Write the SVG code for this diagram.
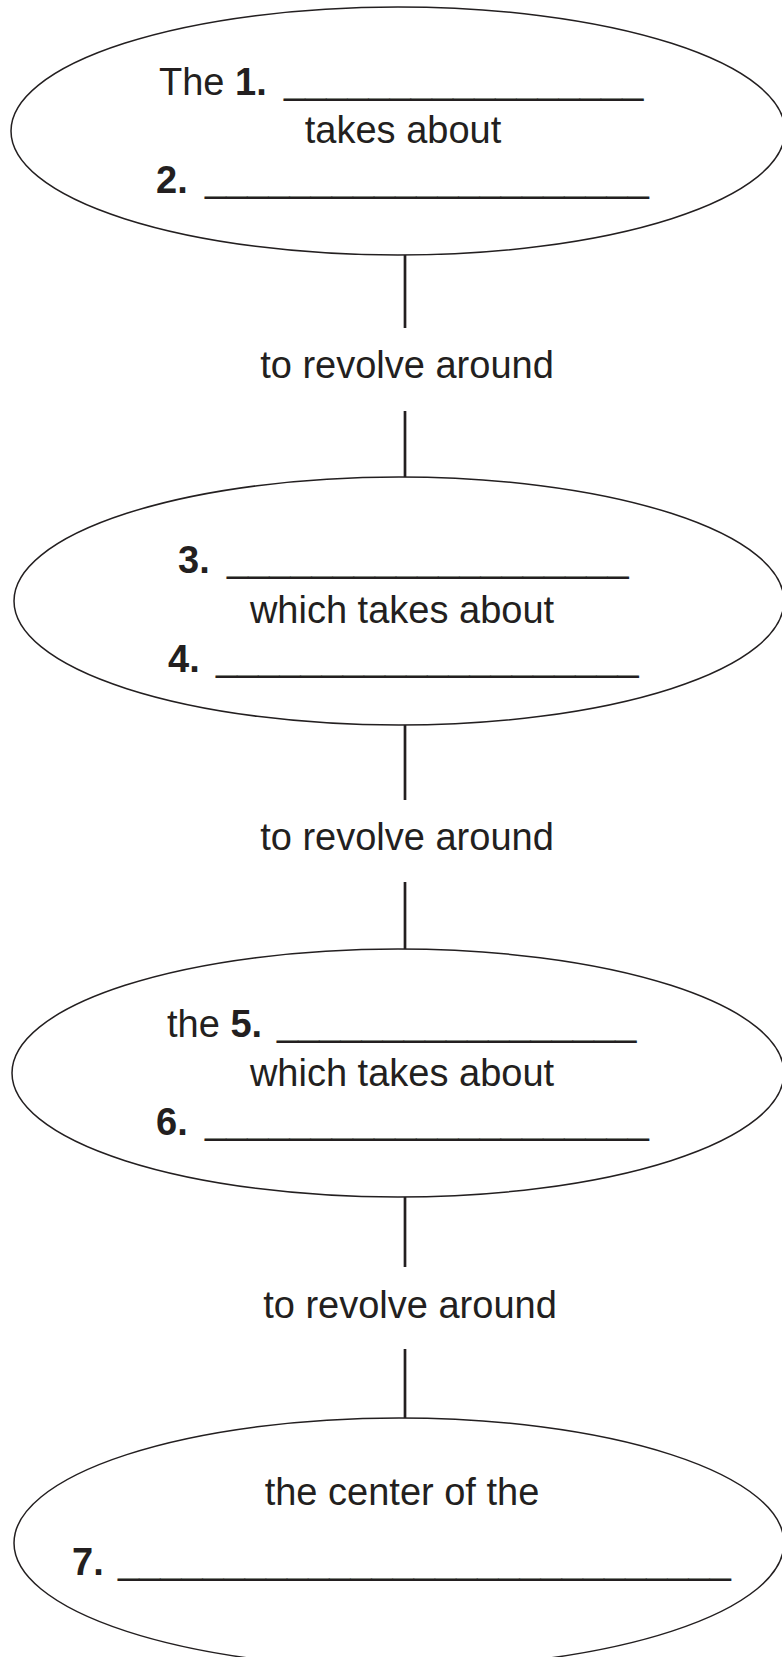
<svg xmlns="http://www.w3.org/2000/svg" width="782" height="1657" viewBox="0 0 782 1657">
<style>
.oval{fill:#fff;stroke:#231f20;stroke-width:1.5}
.conn line{stroke:#231f20;stroke-width:2.7}
text{font-family:"Liberation Sans",Arial,Helvetica,sans-serif;font-size:38px;fill:#231f20}
.b{font-weight:bold}
.m{text-anchor:middle}
</style>
<rect width="782" height="1657" fill="#fff"/>
<g id="connectors" class="conn">
<line x1="405" y1="255" x2="405" y2="328"/>
<line x1="405" y1="411" x2="405" y2="477"/>
<line x1="405" y1="725" x2="405" y2="800"/>
<line x1="405" y1="882" x2="405" y2="949"/>
<line x1="405" y1="1197" x2="405" y2="1267"/>
<line x1="405" y1="1349" x2="405" y2="1418"/>
<text class="m" x="407" y="378">to revolve around</text>
<text class="m" x="407" y="850">to revolve around</text>
<text class="m" x="410" y="1318">to revolve around</text>
</g>
<g id="node1">
<ellipse class="oval" cx="398" cy="131" rx="387" ry="124"/>
<text x="159" y="95">The <tspan class="b">1.</tspan><tspan x="284" dy="-2">_________________</tspan></text>
<text class="m" x="403" y="143">takes about</text>
<text x="156" y="193"><tspan class="b">2.</tspan><tspan x="205" dy="-2">_____________________</tspan></text>
</g>
<g id="node2">
<ellipse class="oval" cx="399" cy="601" rx="385" ry="124"/>
<text x="178" y="573"><tspan class="b">3.</tspan><tspan x="227" dy="-2">___________________</tspan></text>
<text class="m" x="402" y="623">which takes about</text>
<text x="168" y="672"><tspan class="b">4.</tspan><tspan x="216" dy="-2">____________________</tspan></text>
</g>
<g id="node3">
<ellipse class="oval" cx="398" cy="1073" rx="386" ry="124"/>
<text x="167" y="1037">the <tspan class="b">5.</tspan><tspan x="277" dy="-2">_________________</tspan></text>
<text class="m" x="402" y="1086">which takes about</text>
<text x="156" y="1135"><tspan class="b">6.</tspan><tspan x="205" dy="-2">_____________________</tspan></text>
</g>
<g id="node4">
<ellipse class="oval" cx="399" cy="1543" rx="385" ry="125"/>
<text class="m" x="402" y="1505">the center of the</text>
<text x="72" y="1575"><tspan class="b">7.</tspan><tspan x="118" dy="-2">_____________________________</tspan></text>
</g>
</svg>
